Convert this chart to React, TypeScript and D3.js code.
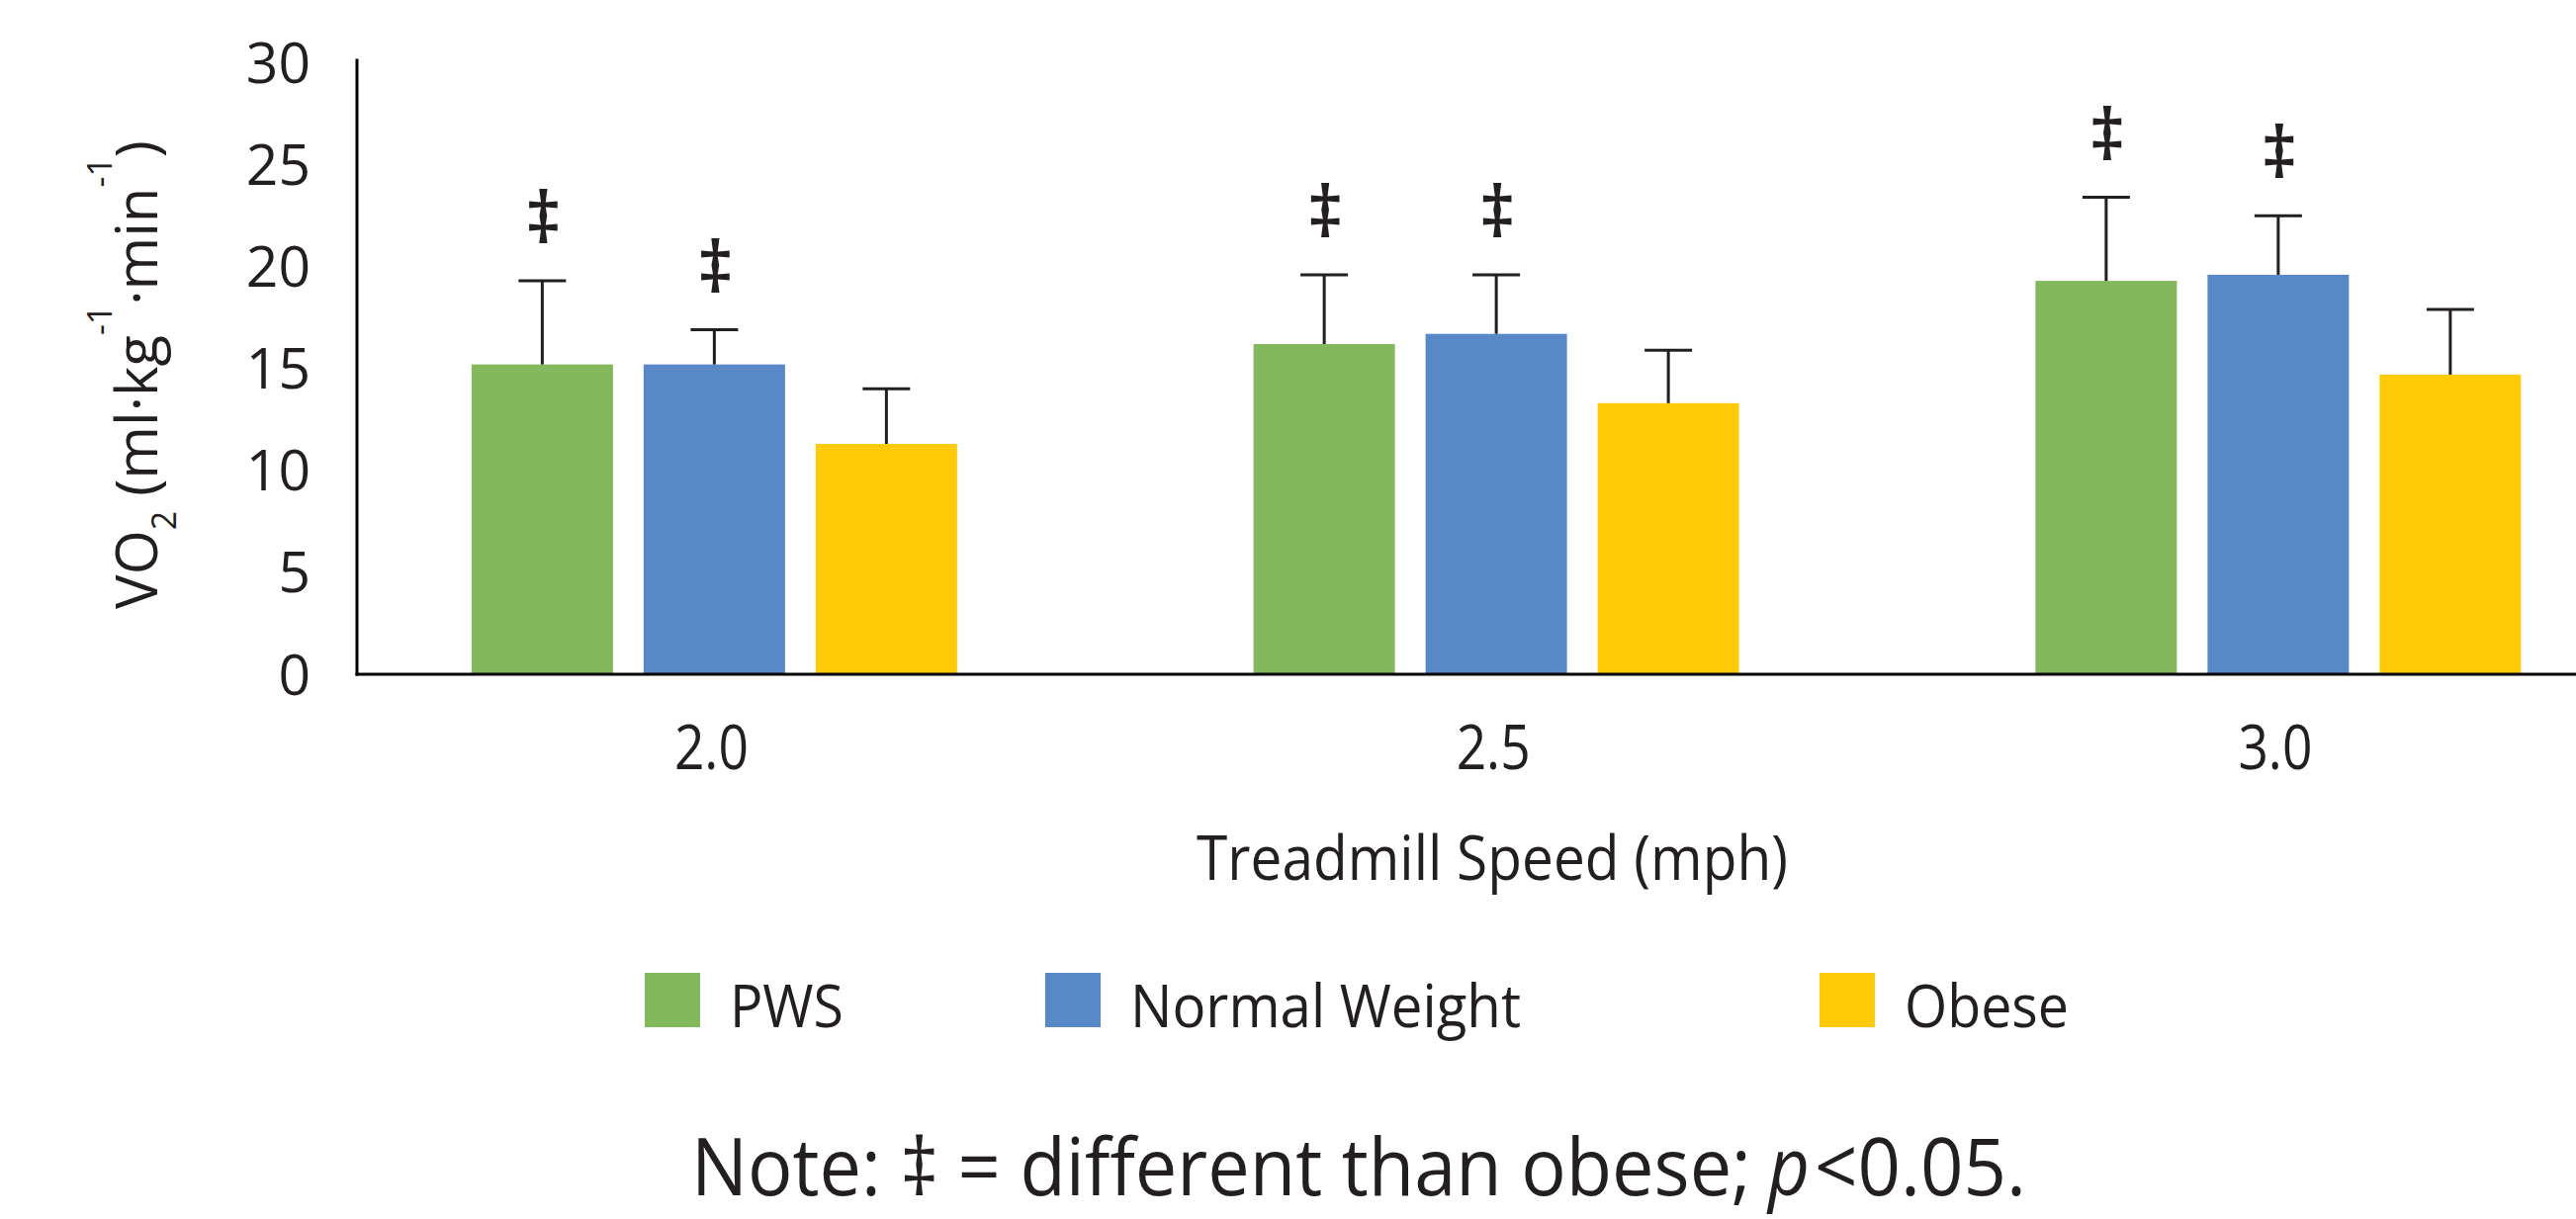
import React from "react";
import * as d3 from "d3";

const speeds = ["2.0", "2.5", "3.0"];
const groups = ["PWS", "Normal Weight", "Obese"];
const pwsMean = [15.2, 16.2, 19.3];
const pwsSD = [4.1, 3.4, 4.1];
const normalMean = [15.2, 16.7, 19.6];
const normalSD = [1.7, 2.9, 2.9];
const obeseMean = [11.3, 13.3, 14.7];
const obeseSD = [2.7, 2.6, 3.2];
const pwsSig = [true, true, true];
const normalSig = [true, true, true];
const obeseSig = [false, false, false];
const yTicks = [0, 5, 10, 15, 20, 25, 30];
const colors = ["#83B85C", "#5888C5", "#FFCA08"];
const legendTextLen = [115, 395, 166];
const legendX = [652, 1057, 1840];

const W = 2605;
const H = 1233;
const FONT = "'Open Sans', 'Noto Sans', sans-serif";
const INK = "#231F20";

export default function App() {
  const means = [pwsMean, normalMean, obeseMean];
  const sds = [pwsSD, normalSD, obeseSD];
  const sigs = [pwsSig, normalSig, obeseSig];

  const y = d3.scaleLinear().domain([0, 30]).range([682, 63.5]);
  const x0 = d3.scaleBand().domain(speeds).range([327, 327 + 3 * 790.75]).padding(0);
  const x1 = d3
    .scaleBand()
    .domain(groups)
    .range([-245.5, 245.5])
    .paddingInner(31 / 174)
    .paddingOuter(0);
  const axisX = 361;
  const capW = 48;

  const bars: any[] = [];
  speeds.forEach((s, i) => {
    const gc = (x0(s) as number) + x0.bandwidth() / 2;
    groups.forEach((g, j) => {
      const bx = gc + (x1(g) as number);
      const bw = x1.bandwidth();
      const cx = bx + bw / 2;
      const v = means[j][i];
      const top = y(v + sds[j][i]);
      bars.push(
        <g key={s + g}>
          <rect x={bx} y={y(v)} width={bw} height={y(0) - y(v)} fill={colors[j]} />
          <line x1={cx} x2={cx} y1={y(v)} y2={top} stroke={INK} strokeWidth={3} />
          <line x1={cx - capW / 2} x2={cx + capW / 2} y1={top} y2={top} stroke={INK} strokeWidth={3} />
          {sigs[j][i] && (
            <text
              x={cx + 1}
              y={top - 38}
              textAnchor="middle"
              fontFamily={FONT}
              fontSize={72}
              fontWeight={600}
              fill={INK}
            >
              ‡
            </text>
          )}
        </g>
      );
    });
  });

  const noteY = 1209;

  return (
    <svg
      width={W}
      height={H}
      style={{ position: "absolute", left: 0, top: 0, background: "#fff" }}
    >
      <rect x={0} y={0} width={W} height={H} fill="#fff" />
      {bars}
      <line x1={axisX} x2={axisX} y1={59.5} y2={y(0) + 1.5} stroke="#000" strokeWidth={3} />
      <line x1={axisX - 1.5} x2={W} y1={y(0)} y2={y(0)} stroke="#000" strokeWidth={3} />
      {yTicks.map((t) => (
        <text
          key={t}
          x={314}
          y={y(t)}
          dy="0.36em"
          textAnchor="end"
          fontFamily={FONT}
          fontSize={57}
          fill={INK}
        >
          {t}
        </text>
      ))}
      {speeds.map((s) => (
        <text
          key={s}
          x={(x0(s) as number) + x0.bandwidth() / 2 - 3}
          y={778}
          textAnchor="middle"
          fontFamily={FONT}
          fontSize={63}
          fill={INK}
          textLength={75}
          lengthAdjust="spacingAndGlyphs"
        >
          {s}
        </text>
      ))}
      <text
        x={1509}
        y={890}
        textAnchor="middle"
        fontFamily={FONT}
        fontSize={63}
        fill={INK}
        textLength={598}
        lengthAdjust="spacingAndGlyphs"
      >
        Treadmill Speed (mph)
      </text>
      <text
        transform="translate(159,379) rotate(-90)"
        textAnchor="middle"
        fontFamily={FONT}
        fontSize={58}
        fill={INK}
      >
        <tspan>VO</tspan>
        <tspan fontSize={34} dy={19}>2</tspan>
        <tspan dy={-19}> (ml·kg</tspan>
        <tspan fontSize={34} dy={-46}>-1</tspan>
        <tspan dy={46}>·min</tspan>
        <tspan fontSize={34} dy={-46}>-1</tspan>
        <tspan dy={46}>)</tspan>
      </text>
      {groups.map((g, j) => (
        <g key={g}>
          <rect x={legendX[j]} y={984} width={56} height={55} fill={colors[j]} />
          <text
            x={legendX[j] + 86}
            y={1039}
            fontFamily={FONT}
            fontSize={60}
            fill={INK}
            textLength={legendTextLen[j]}
            lengthAdjust="spacingAndGlyphs"
          >
            {g}
          </text>
        </g>
      ))}
      <text
        x={699}
        y={noteY}
        fontFamily={FONT}
        fontSize={80}
        fill={INK}
        textLength={1072}
        lengthAdjust="spacingAndGlyphs"
      >
        Note: ‡ = different than obese;
      </text>
      <text
        x={1788}
        y={noteY}
        fontFamily={FONT}
        fontSize={80}
        fontStyle="italic"
        fill={INK}
        textLength={42}
        lengthAdjust="spacingAndGlyphs"
      >
        p
      </text>
      <text
        x={1835}
        y={noteY}
        fontFamily={FONT}
        fontSize={80}
        fill={INK}
        textLength={214}
        lengthAdjust="spacingAndGlyphs"
      >
        &lt;0.05.
      </text>
    </svg>
  );
}
